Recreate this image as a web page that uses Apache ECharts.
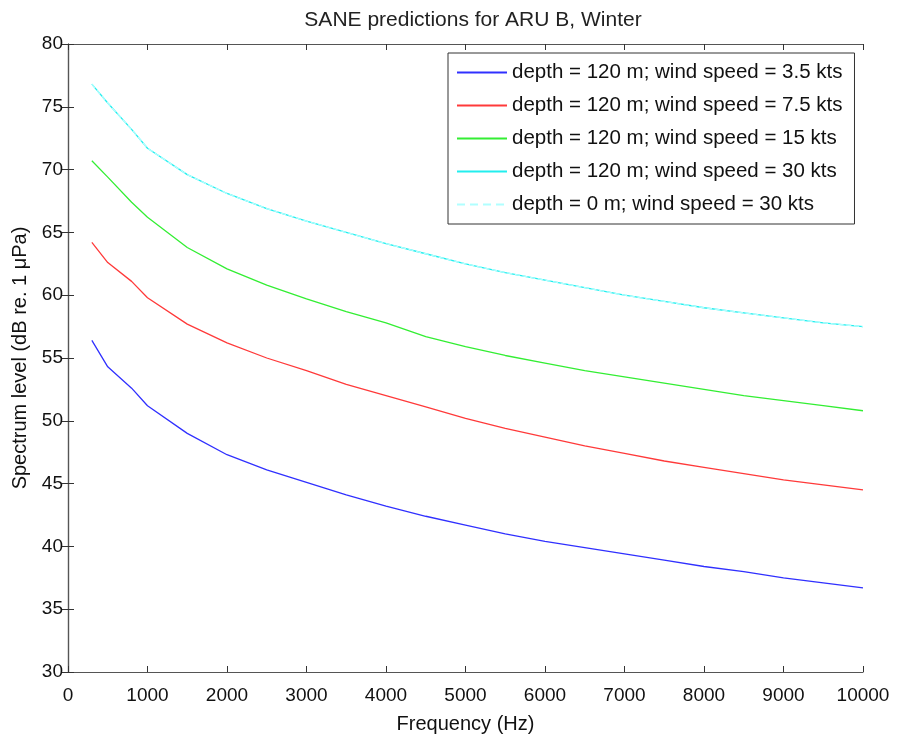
<!DOCTYPE html>
<html>
<head>
<meta charset="utf-8">
<title>SANE predictions for ARU B, Winter</title>
<script src="https://cdn.jsdelivr.net/npm/echarts@6/dist/echarts.min.js"></script>
<style>
  html, body { margin: 0; padding: 0; background: #fff; }
  #chart { width: 897px; height: 737px; }
</style>
</head>
<body>
<div id="chart"></div>
<script>
// frequencies (Hz) shared by every curve
var freqs = [300, 500, 800, 1000, 1500, 2000, 2500, 3000, 3500, 4000, 4500, 5000,
             5500, 6000, 6500, 7000, 7500, 8000, 8500, 9000, 9500, 10000];

// spectrum level, dB re. 1 uPa
var wind35 = [56.4, 54.3, 52.6, 51.2, 49.0, 47.3, 46.1, 45.1, 44.1, 43.2, 42.4, 41.7,
              41.0, 40.4, 39.9, 39.4, 38.9, 38.4, 38.0, 37.5, 37.1, 36.7];
var wind75 = [64.2, 62.6, 61.1, 59.8, 57.7, 56.2, 55.0, 54.0, 52.9, 52.0, 51.1, 50.2,
              49.4, 48.7, 48.0, 47.4, 46.8, 46.3, 45.8, 45.3, 44.9, 44.5];
var wind15 = [70.7, 69.4, 67.4, 66.2, 63.8, 62.1, 60.8, 59.7, 58.7, 57.8, 56.7, 55.9,
              55.2, 54.6, 54.0, 53.5, 53.0, 52.5, 52.0, 51.6, 51.2, 50.8];
var wind30 = [76.8, 75.3, 73.2, 71.7, 69.6, 68.1, 66.9, 65.9, 65.0, 64.1, 63.3, 62.5,
              61.8, 61.2, 60.6, 60.0, 59.5, 59.0, 58.6, 58.2, 57.8, 57.5];
var surface30 = [76.8, 75.3, 73.2, 71.7, 69.6, 68.1, 66.9, 65.9, 65.0, 64.1, 63.3, 62.5,
                 61.8, 61.2, 60.6, 60.0, 59.5, 59.0, 58.6, 58.2, 57.8, 57.5];

var names = [
    'depth = 120 m; wind speed = 3.5 kts',
    'depth = 120 m; wind speed = 7.5 kts',
    'depth = 120 m; wind speed = 15 kts',
    'depth = 120 m; wind speed = 30 kts',
    'depth = 0 m; wind speed = 30 kts'
];
var colors = ['#3030ff', '#ff3a3a', '#33ee33', '#22eeee', '#b0ffff'];

function pairs(ys) {
    return freqs.map(function (f, i) { return [f, ys[i]]; });
}

var font = 'Liberation Sans, Arial, Helvetica, sans-serif';
var chart = echarts.init(document.getElementById('chart'));

function lineSeries(i, ys, type) {
    return {
        name: names[i],
        type: 'line',
        symbol: 'none',
        data: pairs(ys),
        lineStyle: { color: colors[i], width: 1.3, type: type || 'solid' },
        itemStyle: { color: colors[i] },
        animation: false
    };
}

// legend swatches: plain stroke, and a dashed one for the surface curve
var solidIcon = 'path://M0,0h50v1.5h-50z';
var dashIcon = 'path://M0,0h8v1.5h-8z M13,0h8v1.5h-8z M26,0h8v1.5h-8z M39,0h8v1.5h-8z M50,0h0v1.5h0z';

var boxAxis = {
    axisLine: { show: true, lineStyle: { color: '#555', width: 1.2 } },
    axisTick: { show: true, inside: true, length: 6, lineStyle: { color: '#333' } },
    splitLine: { show: false }
};

var option = {
    backgroundColor: '#fff',
    title: {
        text: 'SANE predictions for ARU B, Winter',
        left: 468,
        top: 5,
        textAlign: 'center',
        textStyle: { fontFamily: font, fontSize: 21, fontWeight: 'normal', color: '#222' }
    },
    legend: {
        orient: 'vertical',
        left: 448,
        top: 53,
        padding: [9, 12, 9, 9],
        itemWidth: 50,
        itemHeight: 2,
        itemGap: 12,
        symbolKeepAspect: false,
        backgroundColor: '#fff',
        borderColor: '#333',
        borderWidth: 1,
        textStyle: { fontFamily: font, fontSize: 20.5, color: '#111' },
        data: names.map(function (n, i) {
            return { name: n, icon: i === 4 ? dashIcon : solidIcon };
        })
    },
    grid: { left: 68, right: 34, top: 44, bottom: 65, outerBoundsMode: 'none' },
    xAxis: [
        Object.assign({
            type: 'value', min: 0, max: 10000, interval: 1000,
            name: 'Frequency (Hz)', nameLocation: 'middle', nameGap: 42,
            nameTextStyle: { fontFamily: font, fontSize: 20, color: '#111' },
            axisLabel: {
                fontFamily: font, fontSize: 19, color: '#111', margin: 14,
                formatter: function (v) { return String(v); }
            }
        }, boxAxis),
        Object.assign({
            type: 'value', min: 0, max: 10000, interval: 1000, position: 'top',
            axisLabel: { show: false }
        }, boxAxis)
    ],
    yAxis: [
        Object.assign({
            type: 'value', min: 30, max: 80, interval: 5,
            name: 'Spectrum level (dB re. 1 μPa)', nameLocation: 'middle', nameGap: 36,
            nameTextStyle: { fontFamily: font, fontSize: 20, color: '#111' },
            axisLabel: { fontFamily: font, fontSize: 19, color: '#111', margin: 5 }
        }, boxAxis),
        Object.assign({
            type: 'value', min: 30, max: 80, interval: 5, position: 'right',
            axisLabel: { show: false }
        }, boxAxis)
    ],
    series: [
        lineSeries(0, wind35),
        lineSeries(1, wind75),
        lineSeries(2, wind15),
        lineSeries(3, wind30),
        lineSeries(4, surface30, 'dashed')
    ]
};

option && chart.setOption(option);
</script>
</body>
</html>
